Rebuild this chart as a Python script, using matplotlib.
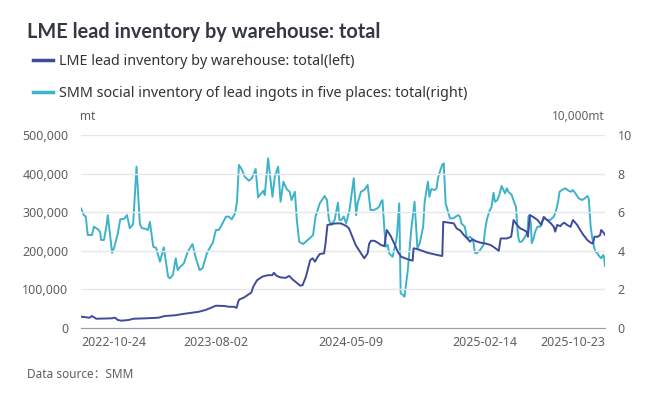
import numpy as np
import pandas as pd
import matplotlib
matplotlib.use("Agg")
import matplotlib.pyplot as plt
import matplotlib.dates as mdates
from matplotlib.ticker import FuncFormatter

# Datos
TITULO = "LME lead inventory by warehouse: total"
SERIE_LME = "LME lead inventory by warehouse: total(left)"
SERIE_SMM = "SMM social inventory of lead ingots in five places: total(right)"
FUENTE = "Data source：SMM"

# LME (mt), eje izquierdo
fechas_lme = [
    "2022-10-24", "2022-11-11", "2022-11-16", "2022-11-25", "2022-12-26", "2023-01-03",
    "2023-01-09", "2023-01-17", "2023-01-31", "2023-02-11", "2023-03-07", "2023-04-04",
    "2023-04-17", "2023-05-09", "2023-05-23", "2023-06-13", "2023-06-27", "2023-07-11",
    "2023-07-18", "2023-08-02", "2023-08-19", "2023-08-30", "2023-09-09", "2023-09-14",
    "2023-09-18", "2023-09-20", "2023-09-29", "2023-10-10", "2023-10-15", "2023-10-19",
    "2023-10-27", "2023-11-07", "2023-11-17", "2023-11-28", "2023-12-01", "2023-12-07",
    "2023-12-15", "2023-12-26", "2024-01-02", "2024-01-09", "2024-01-16", "2024-01-25",
    "2024-01-30", "2024-02-06", "2024-02-15", "2024-02-20", "2024-02-25", "2024-03-01",
    "2024-03-06", "2024-03-15", "2024-03-18", "2024-03-22", "2024-03-29", "2024-04-08",
    "2024-04-19", "2024-04-26", "2024-05-01", "2024-05-06", "2024-05-13", "2024-05-20",
    "2024-05-31", "2024-06-07", "2024-06-14", "2024-06-17", "2024-06-21", "2024-06-28",
    "2024-07-05", "2024-07-12", "2024-07-19", "2024-07-24", "2024-08-02", "2024-08-09",
    "2024-08-16", "2024-08-23", "2024-09-06", "2024-09-16", "2024-09-18", "2024-09-27",
    "2024-10-17", "2024-11-07", "2024-11-17", "2024-11-19", "2024-12-01", "2024-12-11",
    "2024-12-17", "2024-12-25", "2025-01-01", "2025-01-08", "2025-01-14", "2025-01-19",
    "2025-01-26", "2025-02-05", "2025-02-15", "2025-02-26", "2025-03-08", "2025-03-15",
    "2025-03-19", "2025-04-01", "2025-04-10", "2025-04-15", "2025-04-22", "2025-04-29",
    "2025-05-06", "2025-05-12", "2025-05-15", "2025-05-19", "2025-05-27", "2025-06-04",
    "2025-06-12", "2025-06-17", "2025-06-24", "2025-07-02", "2025-07-08", "2025-07-11",
    "2025-07-15", "2025-07-22", "2025-07-25", "2025-07-30", "2025-08-05", "2025-08-12",
    "2025-08-17", "2025-08-26", "2025-09-01", "2025-09-08", "2025-09-16", "2025-09-23",
    "2025-09-28", "2025-10-01", "2025-10-08", "2025-10-13", "2025-10-15", "2025-10-20",
    "2025-10-23",
]
valores_lme = [
    29300, 26700, 31000, 24000, 25000, 26700,
    20700, 19000, 20700, 24000, 25000, 26700,
    31000, 33000, 36000, 39600, 42000, 46600,
    50000, 57800, 57000, 55000, 55000, 52000,
    70000, 74000, 78500, 88000, 92000, 107000,
    124000, 133000, 136500, 137000, 143000, 135000,
    131000, 130000, 135000, 126000, 119000, 109600,
    111000, 133000, 176000, 180600, 171800, 183000,
    191700, 193500, 219000, 266800, 269000, 271000,
    271000, 266800, 264000, 258000, 236500, 215000,
    193500, 180600, 193500, 217600, 226000, 226000,
    221000, 215000, 212000, 254000, 236500, 217600,
    197700, 184700, 178000, 174400, 206500, 204000,
    195000, 189000, 186500, 275000, 272800, 271000,
    258000, 252000, 241000, 232000, 223600, 229800,
    225000, 221000, 219000, 215000, 206500, 200000,
    232000, 232000, 236500, 279800, 266800, 258000,
    254000, 249500, 236500, 292700, 286800, 279800,
    266800, 288000, 279800, 271000, 262000, 249500,
    266800, 264000, 269000, 272800, 266800, 262000,
    279800, 266800, 254000, 241000, 228000, 221000,
    219000, 236500, 236500, 241000, 254000, 247000,
    241000,
]

# SMM (10,000 mt), eje derecho
fechas_smm = [
    "2022-10-24", "2022-10-30", "2022-11-03", "2022-11-07", "2022-11-16", "2022-11-20",
    "2022-11-29", "2022-12-03", "2022-12-05", "2022-12-11", "2022-12-16", "2022-12-19",
    "2022-12-28", "2023-01-01", "2023-01-09", "2023-01-14", "2023-01-22", "2023-01-28",
    "2023-02-03", "2023-02-10", "2023-02-17", "2023-02-24", "2023-02-28", "2023-03-09",
    "2023-03-13", "2023-03-17", "2023-03-24", "2023-03-30", "2023-04-07", "2023-04-15",
    "2023-04-24", "2023-04-28", "2023-05-04", "2023-05-10", "2023-05-14", "2023-05-19",
    "2023-05-27", "2023-06-04", "2023-06-14", "2023-06-21", "2023-06-29", "2023-07-05",
    "2023-07-14", "2023-07-20", "2023-07-26", "2023-08-02", "2023-08-08", "2023-08-14",
    "2023-08-23", "2023-08-29", "2023-09-04", "2023-09-11", "2023-09-15", "2023-09-19",
    "2023-09-25", "2023-10-01", "2023-10-10", "2023-10-16", "2023-10-24", "2023-10-29",
    "2023-11-02", "2023-11-09", "2023-11-12", "2023-11-19", "2023-11-28", "2023-12-03",
    "2023-12-10", "2023-12-15", "2023-12-21", "2023-12-28", "2024-01-03", "2024-01-07",
    "2024-01-14", "2024-01-18", "2024-01-23", "2024-01-31", "2024-02-14", "2024-02-21",
    "2024-02-26", "2024-03-06", "2024-03-16", "2024-03-21", "2024-03-25", "2024-03-30",
    "2024-04-06", "2024-04-13", "2024-04-16", "2024-04-20", "2024-04-25", "2024-04-30",
    "2024-05-07", "2024-05-16", "2024-05-21", "2024-05-24", "2024-05-31", "2024-06-07",
    "2024-06-14", "2024-06-20", "2024-06-27", "2024-07-04", "2024-07-08", "2024-07-12",
    "2024-07-15", "2024-07-19", "2024-07-22", "2024-07-26", "2024-07-29", "2024-08-05",
    "2024-08-10", "2024-08-14", "2024-08-19", "2024-08-22", "2024-08-27", "2024-08-30",
    "2024-09-06", "2024-09-13", "2024-09-20", "2024-09-26", "2024-10-01", "2024-10-08",
    "2024-10-11", "2024-10-15", "2024-10-18", "2024-10-21", "2024-10-25", "2024-11-01",
    "2024-11-05", "2024-11-08", "2024-11-13", "2024-11-17", "2024-11-20", "2024-11-24",
    "2024-11-27", "2024-12-03", "2024-12-10", "2024-12-15", "2024-12-20", "2024-12-24",
    "2024-12-27", "2025-01-03", "2025-01-07", "2025-01-10", "2025-01-14", "2025-01-17",
    "2025-01-21", "2025-01-24", "2025-01-28", "2025-02-04", "2025-02-11", "2025-02-14",
    "2025-02-18", "2025-02-23", "2025-02-28", "2025-03-04", "2025-03-07", "2025-03-12",
    "2025-03-16", "2025-03-21", "2025-03-25", "2025-03-28", "2025-04-01", "2025-04-04",
    "2025-04-11", "2025-04-17", "2025-04-20", "2025-04-24", "2025-04-27", "2025-05-02",
    "2025-05-07", "2025-05-11", "2025-05-14", "2025-05-16", "2025-05-18", "2025-05-21",
    "2025-05-23", "2025-05-27", "2025-05-30", "2025-06-04", "2025-06-10", "2025-06-13",
    "2025-06-18", "2025-06-24", "2025-07-01", "2025-07-08", "2025-07-13", "2025-07-17",
    "2025-07-20", "2025-07-25", "2025-08-01", "2025-08-08", "2025-08-13", "2025-08-17",
    "2025-08-22", "2025-08-29", "2025-09-05", "2025-09-11", "2025-09-16", "2025-09-19",
    "2025-09-23", "2025-09-26", "2025-09-30", "2025-10-03", "2025-10-07", "2025-10-12",
    "2025-10-15", "2025-10-19", "2025-10-21", "2025-10-23",
]
valores_smm = [
    6.20, 5.85, 5.77, 4.82, 4.82, 5.25,
    5.10, 4.97, 4.56, 4.56, 5.25, 5.85,
    3.89, 4.15, 4.90, 5.63, 5.65, 5.85,
    5.17, 5.39, 8.36, 5.39, 5.18, 5.13,
    5.08, 5.50, 4.21, 4.15, 3.44, 4.18,
    2.66, 2.57, 2.75, 3.61, 3.00, 3.16,
    3.35, 3.95, 4.35, 3.61, 3.00, 3.10,
    3.87, 4.15, 4.39, 5.08, 5.08, 5.34,
    5.77, 5.77, 5.63, 5.94, 6.54, 8.45,
    8.22, 7.84, 7.63, 7.76, 8.24, 6.77,
    6.90, 7.11, 6.89, 8.79, 6.80, 7.84,
    8.36, 6.54, 7.58, 7.19, 7.06, 6.63,
    7.06, 5.60, 4.47, 4.35, 4.65, 4.82,
    5.77, 6.46, 6.84, 6.63, 5.60, 5.34,
    5.60, 6.49, 5.60, 5.60, 5.77, 5.42,
    6.11, 7.76, 5.85, 6.46, 7.06, 7.15,
    7.41, 6.11, 6.11, 6.20, 6.28, 6.54,
    6.63, 5.08, 4.21, 4.30, 3.87, 3.69,
    4.21, 4.73, 6.46, 1.80, 1.71, 1.62,
    3.00, 5.08, 6.54, 4.13, 4.40, 5.25,
    6.50, 7.15, 7.58, 6.80, 7.20, 7.15,
    7.24, 7.76, 8.19, 8.45, 8.53, 6.46,
    6.20, 5.68, 5.68, 5.77, 5.85, 5.77,
    5.42, 5.25, 4.73, 4.65, 4.73, 4.65,
    4.47, 3.90, 3.87, 4.04, 4.30, 4.99,
    5.60, 6.03, 6.28, 7.01, 6.54, 6.63,
    6.89, 7.36, 7.15, 6.98, 7.24, 7.06,
    6.89, 6.46, 6.28, 4.82, 4.47, 4.47,
    4.65, 4.82, 4.91, 5.77, 5.85, 5.42,
    4.39, 4.65, 4.99, 5.25, 5.25, 5.51,
    5.68, 5.60, 5.60, 5.77, 6.11, 6.54,
    7.06, 7.15, 7.24, 7.11, 7.06, 7.15,
    6.98, 6.72, 6.63, 6.72, 6.84, 6.72,
    5.25, 4.73, 4.21, 3.95, 3.87, 3.69,
    3.61, 3.78, 3.69, 3.21,
]

etiquetas_x = ["2022-10-24", "2023-08-02", "2024-05-09", "2025-02-14", "2025-10-23"]
ticks_izq = [0, 100000, 200000, 300000, 400000, 500000]
ticks_der = [0, 2, 4, 6, 8, 10]

COLOR_LME = "#3f4b9b"
COLOR_SMM = "#3db3ca"
GRIS_TEXTO = "#5f6066"

plt.rcParams["font.family"] = ["Noto Sans", "Noto Sans CJK SC", "DejaVu Sans"]

fig = plt.figure(figsize=(6.67, 3.98), dpi=100)
ax = fig.add_axes([81 / 667, 1 - 328 / 398, 524 / 667, 193 / 398])
ax2 = ax.twinx()

ax.plot(pd.to_datetime(fechas_lme), valores_lme, color=COLOR_LME, lw=1.4, zorder=3)
ax2.plot(pd.to_datetime(fechas_smm), valores_smm, color=COLOR_SMM, lw=1.4)
ax.set_zorder(ax2.get_zorder() + 1)
ax.patch.set_visible(False)

ax.set_xlim(pd.Timestamp(etiquetas_x[0]), pd.Timestamp(etiquetas_x[-1]))
ax.set_ylim(0, 500000)
ax2.set_ylim(0, 10)
ax.set_yticks(ticks_izq)
ax2.set_yticks(ticks_der)
ax.yaxis.set_major_formatter(FuncFormatter(lambda v, p: f"{int(v):,}"))

ax.set_xticks(pd.to_datetime(etiquetas_x))
ax.set_xticklabels(etiquetas_x)
etqs = ax.get_xticklabels()
etqs[0].set_ha("left")
etqs[-1].set_ha("right")

ax.grid(axis="y", color="#e6e7ec", lw=1)
ax.set_axisbelow(True)
for a in (ax, ax2):
    for lado in ("top", "left", "right", "bottom"):
        a.spines[lado].set_visible(False)
    a.tick_params(length=0, labelsize=9, colors=GRIS_TEXTO)
ax.spines["bottom"].set_visible(True)
ax.spines["bottom"].set_color("#9a9da6")
ax.tick_params(axis="y", pad=9)
ax.tick_params(axis="x", pad=6)
ax2.tick_params(axis="y", pad=9)

fig.text(27 / 667, 1 - 32 / 398, TITULO, fontsize=14.3, fontweight="bold",
         family=["Lato", "DejaVu Sans"], color="#333842", va="center", ha="left")

h1, = ax.plot([], [], color=COLOR_LME, lw=2.5)
h2, = ax.plot([], [], color=COLOR_SMM, lw=2.5)
fig.legend([h1, h2], [SERIE_LME, SERIE_SMM], loc="upper left",
           bbox_to_anchor=(20 / 667, 1 - 41 / 398), frameon=False,
           fontsize=10.3, handlelength=1.4, handletextpad=0.45,
           labelspacing=1.2, labelcolor="#333333")

fig.text(88 / 667, 1 - 116 / 398, "mt", fontsize=8.5, color=GRIS_TEXTO,
         ha="center", va="center")
fig.text(605 / 667, 1 - 116 / 398, "10,000mt", fontsize=8.5, color=GRIS_TEXTO,
         ha="right", va="center")
fig.text(27 / 667, 1 - 375 / 398, FUENTE, fontsize=8.5, color=GRIS_TEXTO,
         ha="left", va="center")

fig.savefig("out.png", dpi=100)
